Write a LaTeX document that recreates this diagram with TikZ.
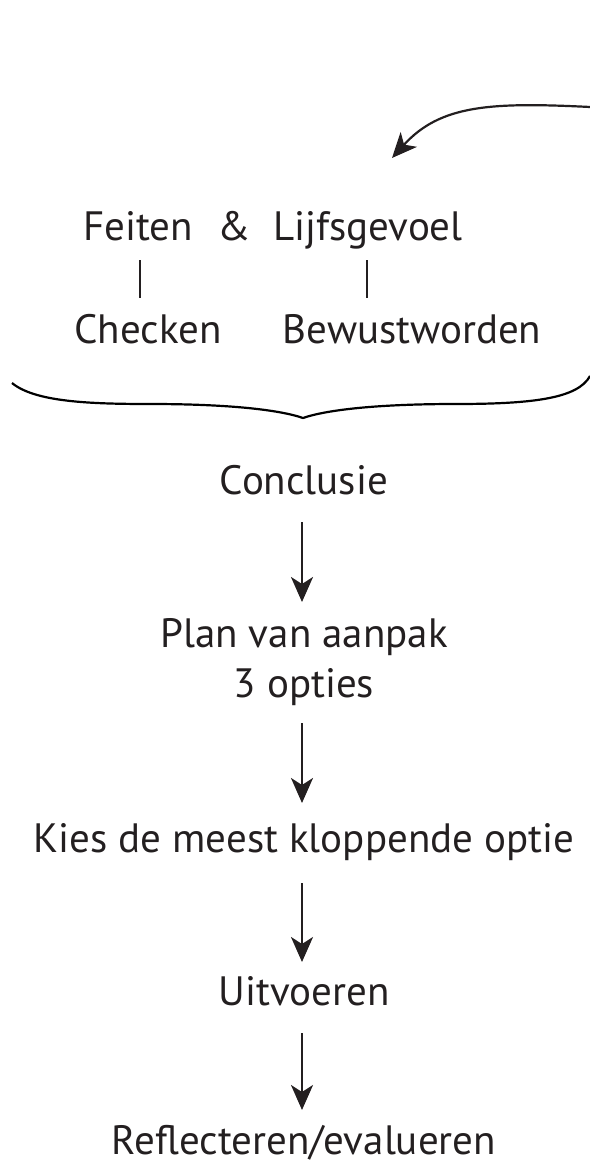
\documentclass[tikz,border=0pt]{standalone}
\usepackage{fontspec}
\setmainfont{PT Sans}
\usetikzlibrary{arrows.meta,calc}
\definecolor{ink}{RGB}{35,31,32}
\begin{document}
\begin{tikzpicture}[x=1pt,y=-1pt,
  lbl/.style={anchor=base,inner sep=0pt,text=ink,font=\fontsize{41}{48}\selectfont},
  arr/.style={draw=ink,line width=2.4pt,-{Stealth[length=25pt,width=22pt,inset=7pt]}},
  bar/.style={draw=ink,line width=1.7pt},
  brace/.style={draw=black,line width=2.2pt}]
\useasboundingbox (0,0) rectangle (589,1169);
% top section
\node[lbl] (feiten) at (138,240) {Feiten};
\node[lbl] (amp) at (234,240) {\&};
\node[lbl] (lijf) at (368,240) {Lijfsgevoel};
\node[lbl] (check) at (148,343) {Checken};
\node[lbl] (bewust) at (412,343) {Bewustworden};
\coordinate (b1a) at (140,260);
\coordinate (b1b) at (140,298);
\coordinate (b2a) at (367,260);
\coordinate (b2b) at (367,298);
\draw[bar] (b1a) -- (b1b);
\draw[bar] (b2a) -- (b2b);
% curved arrow
\coordinate (cstart) at (590,107);
\coordinate (cend) at (392,158);
\draw[arr,line width=2.2pt] (cstart) .. controls (490,102) and (440,105) .. (cend);
% brace
\coordinate (brL) at (12,383);
\coordinate (brR) at (590,376);
\coordinate (brT) at (303,418);
\draw[brace] (brL) .. controls (35,402) and (90,404) .. (150,404)
  .. controls (230,404) and (280,410) .. (brT)
  .. controls (326,410) and (376,404) .. (456,404)
  .. controls (535,404) and (578,398) .. (brR);
% flow
\node[lbl] (conc) at (304,494) {Conclusie};
\node[lbl] (plan) at (304,647) {Plan van aanpak};
\node[lbl] (opties) at (304,697) {3 opties};
\node[lbl] (kies) at (304,852) {Kies de meest kloppende optie};
\node[lbl] (uit) at (304,1005) {Uitvoeren};
\node[lbl] (refl) at (304,1154) {Reflecteren/evalueren};
\draw[arr] ($(conc.base)+(-2,28)$) -- ($(plan.base)+(-2,-45)$);
\draw[arr] ($(opties.base)+(-2,26)$) -- ($(kies.base)+(-2,-49)$);
\draw[arr] ($(kies.base)+(-2,31)$) -- ($(uit.base)+(-2,-43)$);
\draw[arr] ($(uit.base)+(-2,28)$) -- ($(refl.base)+(-2,-44)$);
\end{tikzpicture}
\end{document}
